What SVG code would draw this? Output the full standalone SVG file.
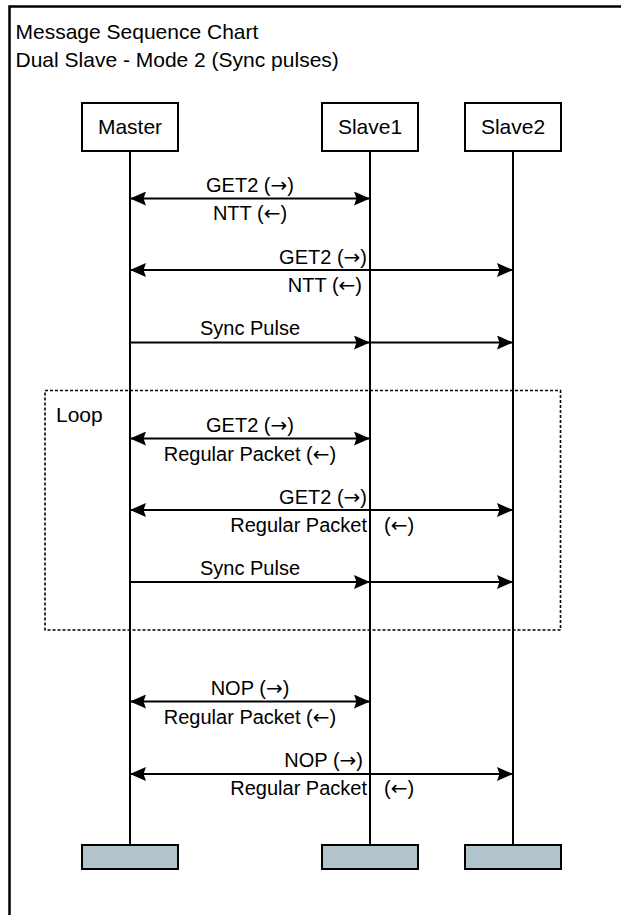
<svg xmlns="http://www.w3.org/2000/svg" width="621" height="915" viewBox="0 0 621 915">
  <style>
    text { font-family: "Liberation Sans", Arial, sans-serif; font-size: 20px; fill: #000; }
    .big { font-size: 21px; }
    .c { text-anchor: middle; }
    .e { text-anchor: end; }
    .ar { font-family: "DejaVu Sans", sans-serif; }
    .box { fill: #fff; stroke: #000; stroke-width: 2; }
    .foot { fill: #b2c4cb; stroke: #000; stroke-width: 2; }
    .life { stroke: #000; stroke-width: 2; fill: none; }
    .msg { stroke: #000; stroke-width: 2; fill: none; }
    .one { marker-end: url(#ah); }
    .two { marker-start: url(#ah); marker-end: url(#ah); }
    .frame { fill: none; stroke: #000; stroke-width: 2.5; }
    .loop { fill: none; stroke: #000; stroke-width: 1.6; stroke-dasharray: 3 2; }
  </style>
  <defs>
    <marker id="ah" viewBox="0 0 16 14" refX="16" refY="7" markerWidth="16" markerHeight="14" markerUnits="userSpaceOnUse" orient="auto-start-reverse">
      <path d="M0,0 L16,7 L0,14 L2.5,7 Z" fill="#000"/>
    </marker>
  </defs>
  <rect x="0" y="0" width="621" height="915" fill="#fff"/>

  <g id="frame">
    <path class="frame" d="M9.5,915 V6.5 H621"/>
    <text class="big" x="15.5" y="39">Message Sequence Chart</text>
    <text class="big" x="15.5" y="66.5">Dual Slave - Mode 2 (Sync pulses)</text>
  </g>

  <g id="master">
    <line class="life" x1="130" y1="151" x2="130" y2="845"/>
    <rect class="box" x="82" y="103" width="96" height="48"/>
    <text class="c big" x="130" y="134">Master</text>
    <rect class="foot" x="82" y="845" width="96" height="24"/>
  </g>
  <g id="slave1">
    <line class="life" x1="370" y1="151" x2="370" y2="845"/>
    <rect class="box" x="322" y="103" width="96" height="48"/>
    <text class="c big" x="370" y="134">Slave1</text>
    <rect class="foot" x="322" y="845" width="96" height="24"/>
  </g>
  <g id="slave2">
    <line class="life" x1="513" y1="151" x2="513" y2="845"/>
    <rect class="box" x="465" y="103" width="96" height="48"/>
    <text class="c big" x="513" y="134">Slave2</text>
    <rect class="foot" x="465" y="845" width="96" height="24"/>
  </g>

  <g id="loop">
    <rect class="loop" x="45" y="390.5" width="515.5" height="239.5"/>
    <text class="big" x="56" y="421.5">Loop</text>
  </g>

  <g id="connectors">
    <line class="msg two" x1="130" y1="198.5" x2="370" y2="198.5"/>
    <text class="c" x="250" y="191.5">GET2 (<tspan class="ar">→</tspan>)</text>
    <text class="c" x="250" y="220">NTT (<tspan class="ar">←</tspan>)</text>

    <line class="msg two" x1="130" y1="270" x2="513" y2="270"/>
    <text class="e" x="367" y="263.5">GET2 (<tspan class="ar">→</tspan>)</text>
    <text class="e" x="362" y="291.5">NTT (<tspan class="ar">←</tspan>)</text>

    <line class="msg one" x1="130" y1="342.5" x2="370" y2="342.5"/>
    <line class="msg one" x1="370" y1="342.5" x2="513" y2="342.5"/>
    <text class="c" x="250" y="335">Sync Pulse</text>

    <line class="msg two" x1="130" y1="438.5" x2="370" y2="438.5"/>
    <text class="c" x="250" y="431.5">GET2 (<tspan class="ar">→</tspan>)</text>
    <text class="c" x="250" y="460.5">Regular Packet (<tspan class="ar">←</tspan>)</text>

    <line class="msg two" x1="130" y1="510" x2="513" y2="510"/>
    <text class="e" x="367" y="503.5">GET2 (<tspan class="ar">→</tspan>)</text>
    <text class="e" x="367" y="532">Regular Packet</text>
    <text x="384" y="532">(<tspan class="ar">←</tspan>)</text>

    <line class="msg one" x1="130" y1="582" x2="370" y2="582"/>
    <line class="msg one" x1="370" y1="582" x2="513" y2="582"/>
    <text class="c" x="250" y="575">Sync Pulse</text>

    <line class="msg two" x1="130" y1="701.5" x2="370" y2="701.5"/>
    <text class="c" x="250" y="695">NOP (<tspan class="ar">→</tspan>)</text>
    <text class="c" x="250" y="723.5">Regular Packet (<tspan class="ar">←</tspan>)</text>

    <line class="msg two" x1="130" y1="774" x2="513" y2="774"/>
    <text class="e" x="363" y="767">NOP (<tspan class="ar">→</tspan>)</text>
    <text class="e" x="367" y="795">Regular Packet</text>
    <text x="384" y="795">(<tspan class="ar">←</tspan>)</text>
  </g>
</svg>
